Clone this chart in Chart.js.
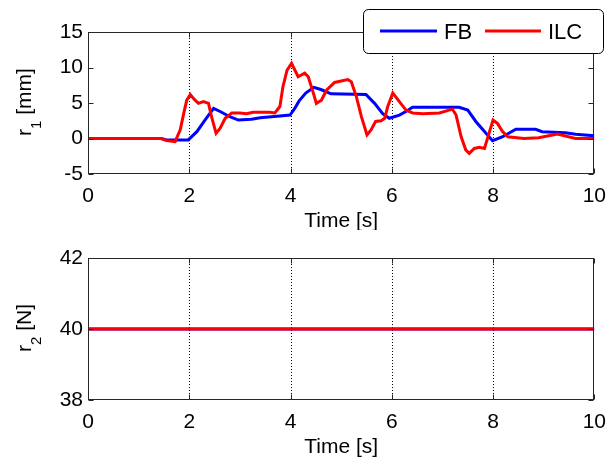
<!DOCTYPE html>
<html><head><meta charset="utf-8">
<script src="https://cdn.jsdelivr.net/npm/chart.js@4"></script>
<style>
html,body{margin:0;padding:0;background:#fff;overflow:hidden}
#wrap{position:relative;width:616px;height:458px;background:#fff}
canvas{position:absolute;left:0}
</style></head><body>
<div id="wrap">
<canvas id="c1" width="616" height="230" style="top:0"></canvas>
<canvas id="c2" width="616" height="228" style="top:230px"></canvas>
</div>
<script>
// ---- data ----
const fbTime = [0,1.45,1.55,1.98,2.15,2.31,2.48,2.61,2.8,2.97,3.23,3.4,3.79,3.99,4.08,4.17,4.3,4.46,4.6,4.8,5.49,5.66,5.82,5.95,6.15,6.28,6.41,7.33,7.5,7.66,7.86,7.99,8.19,8.45,8.84,8.97,9.43,9.63,10];
const fbR1   = [0,0,-0.2,-0.2,0.96,2.6,4.25,3.8,3.07,2.6,2.7,2.93,3.17,3.3,4.2,5.3,6.4,7.2,6.9,6.3,6.2,4.95,3.5,2.85,3.3,3.8,4.4,4.4,4.0,2.4,0.73,-0.3,0.25,1.3,1.3,0.96,0.82,0.6,0.4];
const ilcTime = [0,1.45,1.55,1.72,1.82,1.89,1.95,2.02,2.1,2.18,2.28,2.38,2.44,2.53,2.61,2.71,2.84,3.0,3.13,3.26,3.59,3.69,3.79,3.85,3.93,4.02,4.15,4.28,4.35,4.45,4.51,4.61,4.71,4.87,5.13,5.2,5.3,5.4,5.51,5.59,5.68,5.79,5.86,5.92,6.02,6.15,6.28,6.41,6.61,6.94,7.13,7.2,7.27,7.37,7.46,7.53,7.63,7.73,7.83,7.92,8.0,8.09,8.19,8.29,8.61,8.9,9.1,9.27,9.43,9.63,10];
const ilcR1   = [0,0,-0.3,-0.45,1.2,3.5,5.4,6.2,5.5,4.95,5.2,4.95,3.07,0.73,1.44,2.85,3.6,3.6,3.5,3.7,3.7,3.6,4.5,7.3,9.6,10.6,8.7,9.2,8.7,6.4,4.95,5.4,6.8,7.9,8.3,8.0,5.9,3.07,0.5,1.2,2.4,2.5,2.85,4.5,6.4,5.2,4.0,3.6,3.5,3.6,4.0,4.1,3.3,0.25,-1.6,-2.1,-1.4,-1.25,-1.4,0.73,2.6,2.1,0.96,0.25,0.0,0.1,0.4,0.63,0.35,0.0,0.0];
const r2Time = [0,10];
const fbR2   = [40,40];
const ilcR2  = [40,40];
const xTicks  = [0,2,4,6,8,10];
const r1Ticks = [-5,0,5,10,15];
const r2Ticks = [38,40,42];
const seriesNames  = ['FB','ILC'];
const seriesColors = ['#0000ff','#ff0000'];
const xTitle = 'Time [s]';

const FONT = '"Liberation Sans", Arial, sans-serif';
function pts(t, v){ return t.map((x,i)=>({x:x, y:v[i]})); }

const framePlugin = {
  id:'frame',
  beforeDatasetsDraw(chart){
    const ctx = chart.ctx, a = chart.chartArea, xs = chart.scales.x;
    ctx.save();
    ctx.strokeStyle = '#000'; ctx.lineWidth = 1; ctx.setLineDash([1,2]);
    xTicks.forEach(v=>{
      if (v===xs.min || v===xs.max) return;
      const px = Math.round(xs.getPixelForValue(v)) + 0.5;
      ctx.beginPath(); ctx.moveTo(px, a.top); ctx.lineTo(px, a.bottom); ctx.stroke();
    });
    ctx.restore();
  },
  afterDatasetsDraw(chart, args, o){
    const ctx = chart.ctx, a = chart.chartArea, xs = chart.scales.x, ys = chart.scales.y;
    const L = Math.round(a.left)+0.5, R = Math.round(a.right)-0.5, T = Math.round(a.top)+0.5, B = Math.round(a.bottom)-0.5;
    ctx.save();
    ctx.strokeStyle = '#262626'; ctx.lineWidth = 1; ctx.setLineDash([]);
    ctx.strokeRect(L, T, R-L, B-T);
    const tl = 5;
    ctx.beginPath();
    xTicks.forEach(v=>{
      const px = Math.round(xs.getPixelForValue(v)) + 0.5;
      ctx.moveTo(px, B); ctx.lineTo(px, B-tl);
      ctx.moveTo(px, T); ctx.lineTo(px, T+tl);
    });
    o.yTicks.forEach(v=>{
      const py = Math.round(ys.getPixelForValue(v)) + 0.5;
      ctx.moveTo(L, py); ctx.lineTo(L+tl, py);
      ctx.moveTo(R, py); ctx.lineTo(R-tl, py);
    });
    ctx.stroke();
    // x title
    ctx.fillStyle = '#000';
    ctx.font = '21px ' + FONT;
    ctx.textAlign = 'center'; ctx.textBaseline = 'alphabetic';
    ctx.fillText(xTitle, (a.left+a.right)/2, a.bottom + 53);
    // y title with subscript
    const mainF = '21px ' + FONT, subF = '15px ' + FONT;
    ctx.font = mainF; const w1 = ctx.measureText(o.yMain).width; const w3 = ctx.measureText(o.yUnit).width;
    ctx.font = subF; const w2 = ctx.measureText(o.ySub).width;
    const total = w1 + w2 + w3;
    ctx.translate(31, (a.top+a.bottom)/2 - 1);
    ctx.rotate(-Math.PI/2);
    ctx.textAlign = 'left';
    let sx = -total/2;
    ctx.font = mainF; ctx.fillText(o.yMain, sx, 0); sx += w1;
    ctx.font = subF; ctx.fillText(o.ySub, sx, 10); sx += w2;
    ctx.font = mainF; ctx.fillText(o.yUnit, sx, 0);
    ctx.restore();
    if (o.legend) {
      ctx.save();
      const bx = 363.5, by = 9.5, bw = 240, bh = 44, r = 5;
      ctx.beginPath();
      ctx.moveTo(bx+r, by); ctx.lineTo(bx+bw-r, by); ctx.arcTo(bx+bw, by, bx+bw, by+r, r);
      ctx.lineTo(bx+bw, by+bh-r); ctx.arcTo(bx+bw, by+bh, bx+bw-r, by+bh, r);
      ctx.lineTo(bx+r, by+bh); ctx.arcTo(bx, by+bh, bx, by+bh-r, r);
      ctx.lineTo(bx, by+r); ctx.arcTo(bx, by, bx+r, by, r); ctx.closePath();
      ctx.fillStyle = '#fff'; ctx.fill();
      ctx.strokeStyle = '#000'; ctx.lineWidth = 1; ctx.stroke();
      const items = [[380,437,444],[485,541,548]];
      ctx.font = '22px ' + FONT; ctx.textAlign='left'; ctx.textBaseline='alphabetic';
      seriesNames.forEach((n,i)=>{
        ctx.strokeStyle = seriesColors[i]; ctx.lineWidth = 3;
        ctx.beginPath(); ctx.moveTo(items[i][0], 31); ctx.lineTo(items[i][1], 31); ctx.stroke();
        ctx.fillStyle = '#000'; ctx.fillText(n, items[i][2], 38.5);
      });
      ctx.restore();
    }
  }
};

function makeChart(id, fT, fV, iT, iV, yTicks, yMin, yMax, yMain, ySub, yUnit, legend, padTop, xAxisH){
  return new Chart(document.getElementById(id), {
    type:'line',
    data:{datasets:[
      {label:seriesNames[0], data:pts(fT,fV), borderColor:seriesColors[0], borderWidth:3, pointRadius:0, tension:0, fill:false, order:1},
      {label:seriesNames[1], data:pts(iT,iV), borderColor:seriesColors[1], borderWidth:3, pointRadius:0, tension:0, fill:false, order:0}
    ]},
    options:{
      responsive:false, animation:false, devicePixelRatio:1,
      layout:{padding:{left:0,right:20,top:padTop,bottom:0}},
      plugins:{legend:{display:false}, tooltip:{enabled:false},
        frame:{yTicks:yTicks, yMain:yMain, ySub:ySub, yUnit:yUnit, legend:legend}},
      scales:{
        x:{type:'linear', min:0, max:10,
          afterBuildTicks:s=>{ s.ticks = xTicks.map(v=>({value:v})); },
          afterFit:s=>{ s.height = xAxisH; },
          grid:{display:false, drawTicks:false}, border:{display:false},
          ticks:{color:'#000', font:{family:FONT,size:21}, padding:10, maxRotation:0, autoSkip:false}},
        y:{type:'linear', min:yMin, max:yMax,
          afterBuildTicks:s=>{ s.ticks = yTicks.map(v=>({value:v})); },
          afterFit:s=>{ s.width = 88; },
          grid:{display:false, drawTicks:false}, border:{display:false},
          ticks:{color:'#000', font:{family:FONT,size:21}, padding:5, autoSkip:false}}
      }
    },
    plugins:[framePlugin]
  });
}

makeChart('c1', fbTime, fbR1, ilcTime, ilcR1, r1Ticks, -5, 15, 'r', '1', ' [mm]', true, 32, 56);
makeChart('c2', r2Time, fbR2, r2Time, ilcR2, r2Ticks, 38, 42, 'r', '2', ' [N]', false, 28, 58);
</script>
</body></html>
